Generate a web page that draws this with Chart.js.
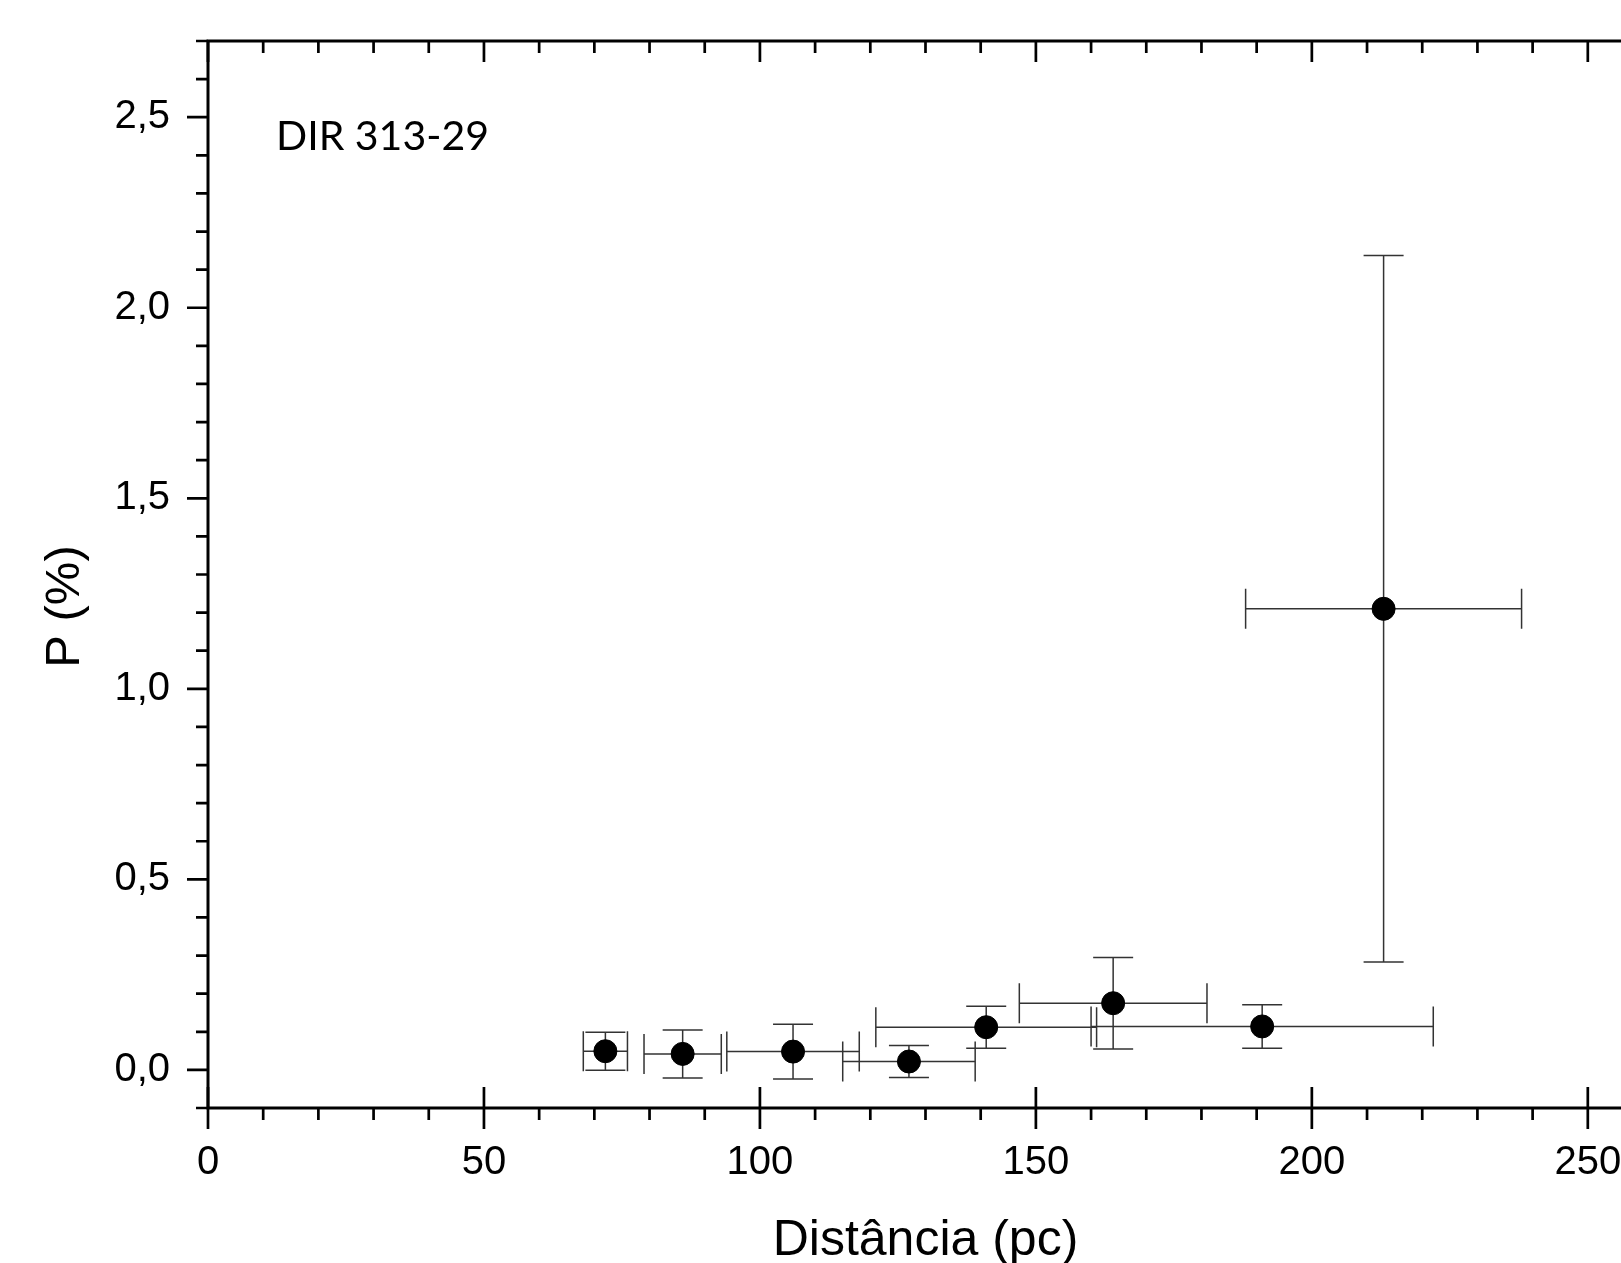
<!DOCTYPE html>
<html>
<head>
<meta charset="utf-8">
<script src="https://cdn.jsdelivr.net/npm/chart.js@4.4.1/dist/chart.umd.min.js"></script>
<style>
  html, body { margin: 0; padding: 0; background: #fff; overflow: hidden; }
  #caixa { width: 1680px; height: 1263px; }
</style>
</head>
<body>
<div id="caixa"><canvas id="grafico" width="1680" height="1263"></canvas></div>
<script>
// distância (pc) e polarização P (%) de cada estrela, com os erros
const distancia   = [72, 86, 106, 127, 141, 164, 191, 213];
const erroDist    = [4, 7, 12, 12, 20, 17, 31, 25];
const polarizacao = [0.049, 0.042, 0.048, 0.022, 0.112, 0.175, 0.114, 1.21];
const erroPol     = [0.050, 0.063, 0.072, 0.042, 0.055, 0.120, 0.057, 0.927];

const ticksX = [0, 50, 100, 150, 200, 250];
const ticksY = [0, 0.5, 1.0, 1.5, 2.0, 2.5];
const nomeNuvem = 'DIR 313-29';

const fonte = 'Liberation Sans, Arial, sans-serif';

// barras de erro em x e y, desenhadas antes dos pontos
const barrasErro = {
    id: 'barrasErro',
    beforeDatasetsDraw(chart) {
        const ctx = chart.ctx;
        const x = chart.scales.x, y = chart.scales.y;
        const cap = 20;
        ctx.save();
        ctx.strokeStyle = '#333';
        ctx.lineWidth = 1.5;
        for (let i = 0; i < distancia.length; i++) {
            const px = x.getPixelForValue(distancia[i]);
            const py = y.getPixelForValue(polarizacao[i]);
            const x0 = x.getPixelForValue(distancia[i] - erroDist[i]);
            const x1 = x.getPixelForValue(distancia[i] + erroDist[i]);
            const y0 = y.getPixelForValue(polarizacao[i] - erroPol[i]);
            const y1 = y.getPixelForValue(polarizacao[i] + erroPol[i]);
            ctx.beginPath();
            ctx.moveTo(x0, py); ctx.lineTo(x1, py);
            ctx.moveTo(x0, py - cap); ctx.lineTo(x0, py + cap);
            ctx.moveTo(x1, py - cap); ctx.lineTo(x1, py + cap);
            ctx.moveTo(px, y0); ctx.lineTo(px, y1);
            ctx.moveTo(px - cap, y0); ctx.lineTo(px + cap, y0);
            ctx.moveTo(px - cap, y1); ctx.lineTo(px + cap, y1);
            ctx.stroke();
        }
        ctx.restore();
    }
};

// moldura com os quatro eixos, marcas e textos
const moldura = {
    id: 'moldura',
    afterDraw(chart) {
        const ctx = chart.ctx;
        const x = chart.scales.x, y = chart.scales.y;
        const a = chart.chartArea;
        const maior = 21, menor = 12;
        ctx.save();
        ctx.strokeStyle = '#000';
        ctx.lineWidth = 3;
        ctx.lineCap = 'butt';
        ctx.beginPath();
        ctx.rect(a.left, a.top, a.right - a.left, a.bottom - a.top);
        ctx.stroke();

        ctx.lineWidth = 2.7;
        ctx.beginPath();
        // eixo x: a cada 10 pc, maiores a cada 50
        for (let k = 0; k <= 26; k++) {
            const px = x.getPixelForValue(k * 10);
            const big = k % 5 === 0;
            if (big) {
                ctx.moveTo(px, a.bottom - maior); ctx.lineTo(px, a.bottom + maior);
                ctx.moveTo(px, a.top); ctx.lineTo(px, a.top + maior);
            } else {
                ctx.moveTo(px, a.bottom); ctx.lineTo(px, a.bottom + menor);
                ctx.moveTo(px, a.top); ctx.lineTo(px, a.top + menor);
            }
        }
        // eixo y: a cada 0,1 %, maiores a cada 0,5
        for (let k = -1; k <= 27; k++) {
            const py = y.getPixelForValue(k / 10);
            const len = k % 5 === 0 ? maior : menor;
            ctx.moveTo(a.left - len, py); ctx.lineTo(a.left, py);
            ctx.moveTo(a.right - len, py); ctx.lineTo(a.right, py);
        }
        ctx.stroke();

        ctx.fillStyle = '#000';
        ctx.font = '41px Lato, sans-serif';
        ctx.textAlign = 'left';
        ctx.textBaseline = 'alphabetic';
        ctx.fillText(nomeNuvem, a.left + 68, a.top + 109);

        ctx.font = '49px ' + fonte;
        ctx.textAlign = 'center';
        ctx.textBaseline = 'middle';
        ctx.translate(65, (a.top + a.bottom) / 2 + 32);
        ctx.rotate(-Math.PI / 2);
        ctx.fillText('P (%)', 0, 0);
        ctx.restore();
    }
};

new Chart(document.getElementById('grafico'), {
    type: 'scatter',
    data: {
        datasets: [{
            label: nomeNuvem,
            data: distancia.map((d, i) => ({ x: d, y: polarizacao[i] })),
            pointRadius: 11.5,
            pointBackgroundColor: '#000',
            pointBorderColor: '#000',
            pointBorderWidth: 1
        }]
    },
    options: {
        responsive: false,
        animation: false,
        layout: { padding: { left: 0, top: 41, right: 37, bottom: 0 } },
        plugins: { legend: { display: false }, tooltip: { enabled: false } },
        scales: {
            x: {
                type: 'linear',
                min: 0,
                max: 260,
                afterBuildTicks: s => { s.ticks = ticksX.map(v => ({ value: v })); },
                afterFit: s => { s.height = 155; s.paddingLeft = 0; s.paddingRight = 0; },
                grid: { display: false, drawTicks: false },
                border: { display: false },
                ticks: {
                    color: '#000',
                    font: { family: fonte, size: 40 },
                    padding: 31,
                    maxRotation: 0,
                    autoSkip: false
                },
                title: {
                    display: true,
                    text: 'Distância (pc)',
                    color: '#000',
                    font: { family: fonte, size: 50, lineHeight: 0.8 },
                    padding: { top: 0, bottom: 2 }
                }
            },
            y: {
                type: 'linear',
                min: -0.1,
                max: 2.7,
                afterBuildTicks: s => { s.ticks = ticksY.map(v => ({ value: v })); },
                afterFit: s => { s.width = 208; s.paddingTop = 0; s.paddingBottom = 0; },
                grid: { display: false, drawTicks: false },
                border: { display: false },
                ticks: {
                    color: '#000',
                    font: { family: fonte, size: 40 },
                    padding: 38,
                    callback: v => v.toFixed(1).replace('.', ',')
                }
            }
        }
    },
    plugins: [barrasErro, moldura]
});
</script>
</body>
</html>
